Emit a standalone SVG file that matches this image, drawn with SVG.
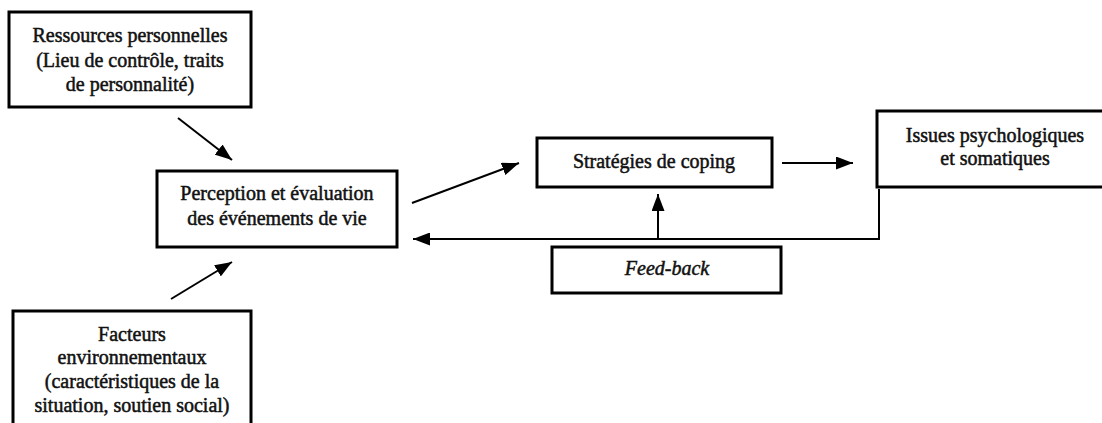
<svg xmlns="http://www.w3.org/2000/svg" width="1102" height="423" viewBox="0 0 1102 423">
<style>
.box{fill:#fff;stroke:#000;stroke-width:3}
.t{font-family:'Liberation Serif','DejaVu Serif',serif;font-size:20px;fill:#111;text-anchor:middle;stroke:#111;stroke-width:0.5}
.it{font-style:italic}
.c{stroke:#000;stroke-width:2;fill:none}
</style>
<defs>
<marker id="ah" viewBox="0 0 17 13" refX="17" refY="6.5" markerWidth="17" markerHeight="13" markerUnits="userSpaceOnUse" orient="auto">
<path d="M0,0 L17,6.5 L0,13 Z" fill="#000"/>
</marker>
</defs>
<rect width="1102" height="423" fill="#fff"/>
<g id="connectors">
<line class="c" x1="178" y1="118" x2="232" y2="160" marker-end="url(#ah)"/>
<line class="c" x1="171" y1="299" x2="232" y2="262" marker-end="url(#ah)"/>
<line class="c" x1="412" y1="203" x2="519" y2="163" marker-end="url(#ah)"/>
<line class="c" x1="782" y1="163" x2="853" y2="163" marker-end="url(#ah)"/>
<line class="c" x1="658" y1="239" x2="658" y2="194" marker-end="url(#ah)"/>
<polyline class="c" points="879,189 879,239 413,239" marker-end="url(#ah)"/>
</g>
<g id="ressources">
<rect class="box" x="9" y="12" width="242" height="95"/>
<text class="t" x="130" y="42">Ressources personnelles</text>
<text class="t" x="130" y="67">(Lieu de contrôle, traits</text>
<text class="t" x="130" y="91">de personnalité)</text>
</g>
<g id="perception">
<rect class="box" x="157" y="171" width="240" height="76"/>
<text class="t" x="277" y="200">Perception et évaluation</text>
<text class="t" x="277" y="225">des événements de vie</text>
</g>
<g id="facteurs">
<rect class="box" x="13" y="311" width="238" height="130"/>
<text class="t" x="132" y="341">Facteurs</text>
<text class="t" x="132" y="364">environnementaux</text>
<text class="t" x="132" y="388">(caractéristiques de la</text>
<text class="t" x="132" y="412">situation, soutien social)</text>
</g>
<g id="strategies">
<rect class="box" x="537" y="138" width="235" height="49"/>
<text class="t" x="654" y="168">Stratégies de coping</text>
</g>
<g id="feedback">
<rect class="box" x="552" y="247" width="229" height="46"/>
<text class="t it" x="667" y="275">Feed-back</text>
</g>
<g id="issues">
<rect class="box" x="877" y="111" width="240" height="76"/>
<text class="t" x="995" y="142">Issues psychologiques</text>
<text class="t" x="995" y="165">et somatiques</text>
</g>
</svg>
